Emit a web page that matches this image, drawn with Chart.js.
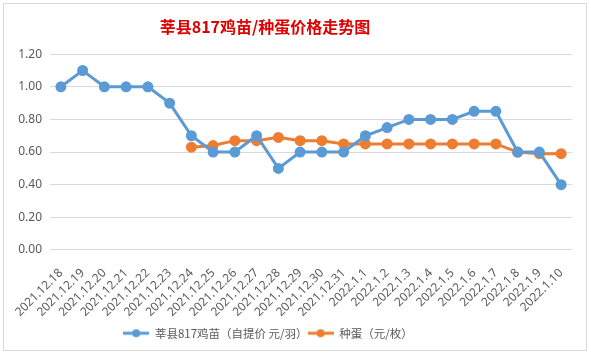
<!DOCTYPE html>
<html>
<head>
<meta charset="utf-8">
<script src="https://cdn.jsdelivr.net/npm/chart.js@4"></script>
<style>
  body { margin: 0; background: #fff; }
  #box { position: absolute; left: 3px; top: 3px; width: 582px; height: 346px; border: 1px solid #d9d9d9; background: #fff; }
</style>
</head>
<body>
<div id="box"><canvas id="price-chart" width="582" height="346"></canvas></div>
<script>
// categories and series
const dates = ['2021.12.18', '2021.12.19', '2021.12.20', '2021.12.21', '2021.12.22', '2021.12.23',
    '2021.12.24', '2021.12.25', '2021.12.26', '2021.12.27', '2021.12.28', '2021.12.29',
    '2021.12.30', '2021.12.31', '2022.1.1', '2022.1.2', '2022.1.3', '2022.1.4',
    '2022.1.5', '2022.1.6', '2022.1.7', '2022.1.8', '2022.1.9', '2022.1.10'];
const chickPrice = [1.00, 1.10, 1.00, 1.00, 1.00, 0.90, 0.70, 0.60, 0.60, 0.70, 0.50, 0.60,
    0.60, 0.60, 0.70, 0.75, 0.80, 0.80, 0.80, 0.85, 0.85, 0.60, 0.60, 0.40];
const eggPrice = [null, null, null, null, null, null, 0.63, 0.64, 0.67, 0.67, 0.69, 0.67,
    0.67, 0.65, 0.65, 0.65, 0.65, 0.65, 0.65, 0.65, 0.65, 0.60, 0.59, 0.59];

const blue = '#5b9bd5';
const orange = '#ed7d31';

// legend marker: short line with a dot in the middle, like Excel
function legendMarker(color) {
    const c = document.createElement('canvas');
    c.width = 26; c.height = 10;
    const g = c.getContext('2d');
    g.strokeStyle = color;
    g.lineWidth = 3;
    g.beginPath(); g.moveTo(0, 5); g.lineTo(26, 5); g.stroke();
    g.fillStyle = color;
    g.beginPath(); g.arc(13, 5, 4, 0, Math.PI * 2); g.fill();
    return c;
}

// Excel put the title and legend a bit left of centre
const shiftBlocks = {
    id: 'shiftBlocks',
    afterLayout(chart) {
        if (chart.titleBlock) {
            chart.titleBlock.left -= 25;
            chart.titleBlock.right -= 25;
        }
        if (chart.legend) {
            chart.legend.left -= 22;
            chart.legend.right -= 22;
        }
    }
};

const ctx = document.getElementById('price-chart').getContext('2d');
const priceChart = new Chart(ctx, {
    type: 'line',
    data: {
        labels: dates,
        datasets: [{
            label: '莘县817鸡苗（自提价 元/羽）',
            data: chickPrice,
            borderColor: blue,
            backgroundColor: blue,
            borderWidth: 3,
            pointRadius: 4,
            pointHoverRadius: 4,
            tension: 0
        }, {
            label: '种蛋（元/枚）',
            data: eggPrice,
            borderColor: orange,
            backgroundColor: orange,
            borderWidth: 3,
            pointRadius: 4,
            pointHoverRadius: 4,
            tension: 0
        }]
    },
    options: {
        responsive: false,
        animation: false,
        layout: { padding: { left: 4, right: 14, top: 0, bottom: 1 } },
        plugins: {
            title: {
                display: true,
                text: '莘县817鸡苗/种蛋价格走势图',
                color: '#e00000',
                font: { family: 'Noto Sans CJK SC', size: 16, weight: 'bold' },
                padding: { top: 13, bottom: 18 }
            },
            legend: {
                position: 'bottom',
                labels: {
                    usePointStyle: true,
                    pointStyleWidth: 26,
                    color: '#595959',
                    font: { family: 'Noto Sans CJK SC', size: 11.5 },
                    padding: 0,
                    generateLabels: function (chart) {
                        return chart.data.datasets.map(function (ds, i) {
                            return {
                                text: ds.label,
                                fontColor: '#595959',
                                pointStyle: legendMarker(ds.borderColor),
                                datasetIndex: i
                            };
                        });
                    }
                }
            },
            tooltip: { enabled: false }
        },
        scales: {
            x: {
                offset: true,
                grid: { display: false },
                border: { display: false },
                ticks: {
                    color: '#595959',
                    font: { family: 'Noto Sans', size: 12 },
                    minRotation: 45,
                    maxRotation: 45,
                    autoSkip: false,
                    padding: 8
                }
            },
            y: {
                min: 0,
                max: 1.2,
                afterFit: function (axis) { axis.width = 42; },
                grid: { color: '#d9d9d9', drawTicks: false },
                border: { display: false },
                ticks: {
                    stepSize: 0.2,
                    padding: 8,
                    color: '#595959',
                    font: { family: 'Noto Sans', size: 12 },
                    callback: function (v) { return v.toFixed(2); }
                }
            }
        }
    },
    plugins: [shiftBlocks]
});
</script>
</body>
</html>
